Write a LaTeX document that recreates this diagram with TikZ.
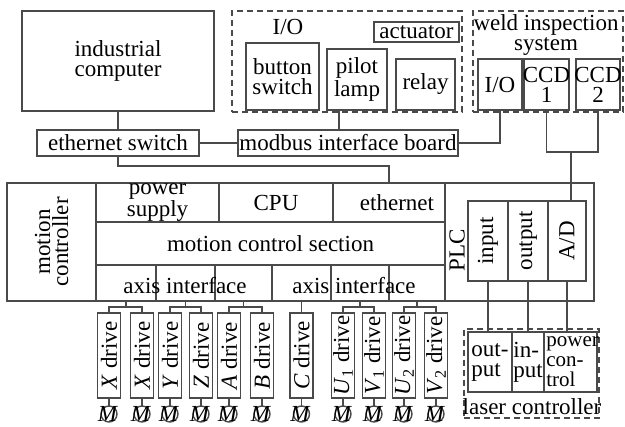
\documentclass[tikz,border=0pt]{standalone}
\usepackage{fontspec}
\setmainfont{Liberation Serif}
\definecolor{ln}{HTML}{4A4A4A}
\tikzset{
  sz/.style 2 args={minimum width=#1*0.5pt, minimum height=#2*0.5pt},
  blk/.style={draw=ln, line width=0.7pt, inner sep=0pt, outer sep=0pt},
  grp/.style={blk, dash pattern=on 3pt off 2pt},
  lbl/.style={inner sep=0pt, align=center, font=\fontsize{11.5}{10}\selectfont},
  txt/.style={label={[lbl]center:#1}},
  vtxt/.style={label={[lbl,rotate=90]center:#1}},
  wire/.style={draw=ln, line width=0.7pt},
  drv/.style={blk, sz={23}{85}},
  mot/.style={blk, circle, minimum size=8pt},
}

\begin{document}
\begin{tikzpicture}[x=0.5pt, y=-0.5pt]
  \useasboundingbox (0,0) rectangle (625,427);
  % top row: computer, I/O group, weld inspection
  \node[blk, sz={192}{100}, txt={industrial\\computer}] (pc) at (118,61) {};
  \node[blk, sz={162}{26}, txt={ethernet switch}] (esw) at (118,143) {};
  \node[grp, sz={230}{101}] (iogrp) at (347,61.5) {};
  \node[lbl] (iot) at (288,27) {I/O};
  \node[blk, sz={85}{20}, txt=actuator] (act) at (416.5,32) {};
  \node[blk, sz={73}{67}, txt={button\\switch}] (btn) at (282.5,76.5) {};
  \node[blk, sz={60}{61}, txt={pilot\\lamp}] (lamp) at (357,79.5) {};
  \node[blk, sz={59}{51}, txt=relay] (relay) at (425.5,84.5) {};
  \node[blk, sz={220}{26}, txt={modbus interface board}] (mod) at (348,143) {};
  \node[grp, sz={150}{101}] (weld) at (548,61.5) {};
  \node[lbl] (weldt) at (546,35) {weld inspection\\system};
  \node[blk, sz={44}{51}, txt=I/O] (wio) at (500,84.5) {};
  \node[blk, sz={45}{51}, txt={CCD\\1}] (ccd1) at (546.5,84.5) {};
  \node[blk, sz={44}{51}, txt={CCD\\2}] (ccd2) at (598,84.5) {};
  \coordinate (ccdj) at (571,152);

  % motion controller
  \node[blk, sz={89}{118}, label={[lbl,rotate=90,font=\fontsize{11.5}{9}\selectfont]center:motion\\controller}] (mclab) at (51.5,242) {};
  \node[blk, sz={123}{39}, label={[lbl,font=\fontsize{11.5}{9}\selectfont]center:power\\supply}] (psu) at (157.5,202.5) {};
  \node[blk, sz={114}{39}, txt=CPU] (cpu) at (276,202.5) {};
  \node[blk, sz={112}{39}, label={[lbl,xshift=4pt]center:ethernet}] (eth) at (389,202.5) {};
  \node[blk, sz={349}{43}, txt={motion control section}] (mcs) at (270.5,243.5) {};
  \foreach \nm/\xx/\ww in {ax1/126/60, ax2/185.5/59, ax3/243.5/57, ax4/301.5/59, ax5/360/58, ax6/417/56}
    \node[blk, sz={\ww}{36}] (\nm) at (\xx,283) {};
  \node[lbl] (axt1) at (185,286) {axis interface};
  \node[lbl] (axt2) at (354,286) {axis interface};

  % PLC
  \node[blk, sz={149}{118}] (plc) at (519.5,242) {};
  \node[lbl, rotate=90] (plct) at (457,250) {PLC};
  \node[blk, sz={40}{80}, vtxt=input] (pin) at (488,241) {};
  \node[blk, sz={40}{80}, vtxt=output] (pout) at (528,241) {};
  \node[blk, sz={38}{80}, vtxt=A/D] (pad) at (567,241) {};

  % laser controller
  \node[grp, sz={135}{89}] (laser) at (531.5,373.5) {};
  \node[blk, sz={44}{60}] (lop) at (490,362) {};
  \node[blk, sz={32}{60}] (lip) at (528,362) {};
  \node[blk, sz={53}{60}] (lpc) at (570.5,362) {};
  \node[lbl, anchor=west, align=left] (lopt) at ([xshift=1.5pt]lop.west) {out-\\put};
  \node[lbl, anchor=west, align=left] (lipt) at ([xshift=0.5pt]lip.west) {in-\\put};
  \node[lbl, anchor=west, align=left, font=\fontsize{10.5}{10}\selectfont] (lpct) at ([xshift=1pt]lpc.west) {power\\con-\\trol};
  \node[lbl] (lasert) at (532,407) {laser controller};

  % drives and motors
  \foreach \nm/\xx/\ax in {xa/109/\textit{X}, xb/142/\textit{X}, yd/170/\textit{Y}, zd/201/\textit{Z},
      ad/229/\textit{A}, bd/262/\textit{B}, cd/301.5/\textit{C}, ua/343/\textit{U}\textsubscript{1},
      va/374/\textit{V}\textsubscript{1}, ub/404/\textit{U}\textsubscript{2}, vb/436/\textit{V}\textsubscript{2}} {
    \node[drv, vtxt={\ax{} drive}] (\nm) at (\xx,355.5) {};
    \node[mot, label={[lbl,xshift=-0.5pt]center:\textit{M}}] (m\nm) at (\xx,414) {};
    \draw[wire] (\nm) -- (m\nm);
  }

  % connections
  \draw[wire] (pc) -- (esw);
  \draw[wire] (esw) -- (mod);
  \draw[wire] ([xshift=6pt]lamp.south west) -- ([xshift=6pt]lamp.south west |- mod.north);
  \draw[wire] (mod.east) -| (wio.south);
  \draw[wire] (ccd1.south) |- (ccdj) -| (ccd2.south);
  \draw[wire] (ccdj) -- (ccdj |- pad.north);
  \draw[wire] (esw.south) -- ++(0,-5pt) -| (eth.north);
  \foreach \ax/\lt/\rt in {ax1/xa/xb, ax2/yd/zd, ax3/ad/bd, ax5/ua/va, ax6/ub/vb} {
    \draw[wire] (\ax.south) -- ++(0,-3pt) coordinate (br);
    \draw[wire] (\lt.north) |- (br) -| (\rt.north);
  }
  \draw[wire] (ax4.south) -- (cd.north);
  \draw[wire] (pin) -- (pin |- lop.north);
  \draw[wire] (pout) -- (pout |- lip.north);
  \draw[wire] (pad) -- (pad |- lpc.north);
\end{tikzpicture}
\end{document}
